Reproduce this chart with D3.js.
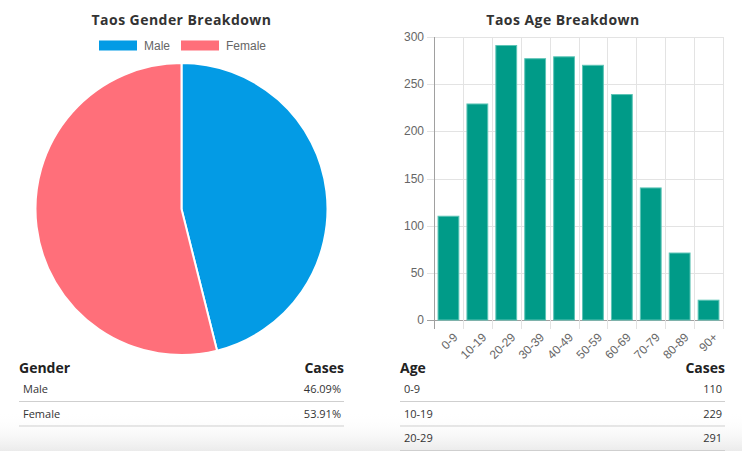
<!DOCTYPE html>
<html>
<head>
<meta charset="utf-8">
<script src="https://cdn.jsdelivr.net/npm/d3@7/dist/d3.min.js"></script>
<style>
  body { margin: 0; background: #fff; }
  svg { display: block; }
</style>
</head>
<body>
<div id="chart"></div>
<script>
// gender pie data
var genderLabels = ['Male', 'Female'];
var genderShares = [46.09, 53.91];
var genderColors = ['#039be5', '#ff6f7a'];

// age bar data
var ageGroups = ['0-9', '10-19', '20-29', '30-39', '40-49', '50-59', '60-69', '70-79', '80-89', '90+'];
var ageCases = [110, 229, 291, 277, 279, 270, 239, 140, 71, 21];
var ageTicks = [0, 50, 100, 150, 200, 250, 300];

var width = 742, height = 451
  , titleFont = "'Open Sans', sans-serif"
  , labelFont = "'Liberation Sans', Arial, sans-serif";

var svg = d3.select('#chart').append('svg')
  .attr('width', width)
  .attr('height', height);

// bottom fade, behind everything
var defs = svg.append('defs');
var grad = defs.append('linearGradient').attr('id', 'fade').attr('x1', 0).attr('x2', 0).attr('y1', 0).attr('y2', 1);
grad.append('stop').attr('offset', '0%').attr('stop-color', '#fff').attr('stop-opacity', 0);
grad.append('stop').attr('offset', '100%').attr('stop-color', '#ebebeb').attr('stop-opacity', 1);
svg.append('rect')
  .attr('x', 0).attr('y', 412).attr('width', width).attr('height', height - 412)
  .attr('fill', 'url(#fade)');

// ---- pie (left) ----
var pieCx = 181.5, pieCy = 209, pieR = 146;

svg.append('text')
  .attr('x', pieCx).attr('y', 25)
  .attr('text-anchor', 'middle')
  .style('font-family', titleFont).style('font-weight', 700)
  .style('font-size', '14px').style('letter-spacing', '0.45px').style('fill', '#333')
  .text('Taos Gender Breakdown');

var legend = svg.append('g').attr('class', 'legend');
var legendX = [99, 181];
genderLabels.forEach(function(name, i) {
  legend.append('rect')
    .attr('x', legendX[i]).attr('y', 40.5)
    .attr('width', 38).attr('height', 10)
    .attr('fill', genderColors[i]);
  legend.append('text')
    .attr('x', legendX[i] + 45).attr('y', 50)
    .style('font-family', labelFont).style('font-size', '12px').style('fill', '#666')
    .text(name);
});

var pie = d3.pie().sort(null).value(function(d) { return d; });
var arc = d3.arc().innerRadius(0).outerRadius(pieR);

svg.append('g')
  .attr('transform', 'translate(' + pieCx + ',' + pieCy + ')')
  .selectAll('path')
  .data(pie(genderShares))
  .enter().append('path')
  .attr('d', arc)
  .attr('fill', function(d, i) { return genderColors[i]; })
  .attr('stroke', '#fff')
  .attr('stroke-width', 2);

// ---- bars (right) ----
var plot = { left: 434, right: 723, top: 37, bottom: 320 };

svg.append('text')
  .attr('x', 563).attr('y', 25)
  .attr('text-anchor', 'middle')
  .style('font-family', titleFont).style('font-weight', 700)
  .style('font-size', '14px').style('letter-spacing', '0.45px').style('fill', '#333')
  .text('Taos Age Breakdown');

var x = d3.scaleBand().domain(ageGroups).range([plot.left, plot.right]).paddingInner(0).paddingOuter(0);
var y = d3.scaleLinear().domain([0, 300]).range([plot.bottom, plot.top]);

var grid = svg.append('g').attr('class', 'grid');
// horizontal grid + y ticks
grid.selectAll('line.h')
  .data(ageTicks)
  .enter().append('line')
  .attr('class', 'h')
  .attr('x1', plot.left - 7).attr('x2', plot.right)
  .attr('y1', function(d) { return Math.round(y(d)) + 0.5; })
  .attr('y2', function(d) { return Math.round(y(d)) + 0.5; })
  .attr('stroke', function(d) { return d === 0 ? '#a0a0a0' : '#e3e3e3'; });

// vertical grid at category boundaries
var bounds = ageGroups.map(function(g) { return x(g); }).concat([plot.right]);
grid.selectAll('line.v')
  .data(bounds)
  .enter().append('line')
  .attr('class', 'v')
  .attr('x1', function(d) { return Math.round(d) + 0.5; })
  .attr('x2', function(d) { return Math.round(d) + 0.5; })
  .attr('y1', plot.top).attr('y2', plot.bottom + 9)
  .attr('stroke', function(d, i) { return i === 0 ? '#a0a0a0' : '#e3e3e3'; });

svg.append('g')
  .selectAll('text')
  .data(ageTicks)
  .enter().append('text')
  .attr('x', plot.left - 10)
  .attr('y', function(d) { return y(d) + 4; })
  .attr('text-anchor', 'end')
  .style('font-family', labelFont).style('font-size', '12px').style('fill', '#666')
  .text(function(d) { return d; });

// bars
var barW = x.bandwidth() * 0.72;
svg.append('g')
  .selectAll('rect')
  .data(ageCases)
  .enter().append('rect')
  .attr('x', function(d, i) { return x(ageGroups[i]) + (x.bandwidth() - barW) / 2; })
  .attr('y', function(d) { return y(d); })
  .attr('width', barW)
  .attr('height', function(d) { return y(0) - y(d); })
  .attr('fill', '#009b88')
  .attr('stroke', '#5cc4b6')
  .attr('stroke-width', 1);

// rotated x labels
svg.append('g')
  .selectAll('text')
  .data(ageGroups)
  .enter().append('text')
  .attr('transform', function(d) {
    return 'translate(' + (x(d) + x.bandwidth() / 2 + 4) + ',' + (plot.bottom + 12) + ') rotate(-45)';
  })
  .attr('text-anchor', 'end')
  .attr('dy', '0.7em')
  .style('font-family', labelFont).style('font-size', '12px').style('fill', '#666')
  .text(function(d) { return d; });

// ---- tables ----
function table(x0, x1, head, rows) {
  var g = svg.append('g');
  g.append('text').attr('x', x0).attr('y', 373)
    .style('font-family', titleFont).style('font-weight', 700).style('font-size', '14px').style('fill', '#222')
    .text(head[0]);
  g.append('text').attr('x', x1).attr('y', 373).attr('text-anchor', 'end')
    .style('font-family', titleFont).style('font-weight', 700).style('font-size', '14px').style('fill', '#222')
    .text(head[1]);
  rows.forEach(function(r, i) {
    var ty = 393 + i * 24.5;
    g.append('text').attr('x', x0 + 4).attr('y', ty)
      .style('font-family', titleFont).style('font-size', '11px').style('fill', '#333')
      .text(r[0]);
    g.append('text').attr('x', x1 - 3).attr('y', ty).attr('text-anchor', 'end')
      .style('font-family', titleFont).style('font-size', '11px').style('fill', '#333')
      .text(r[1]);
    g.append('line')
      .attr('x1', x0).attr('x2', x1)
      .attr('y1', ty + 8.5).attr('y2', ty + 8.5)
      .attr('stroke', '#cfcfcf');
  });
}

table(19, 344, ['Gender', 'Cases'], genderLabels.map(function(g, i) {
  return [g, genderShares[i].toFixed(2) + '%'];
}));
table(400, 725, ['Age', 'Cases'], ageGroups.slice(0, 3).map(function(g, i) {
  return [g, ageCases[i]];
}));
</script>
</body>
</html>
